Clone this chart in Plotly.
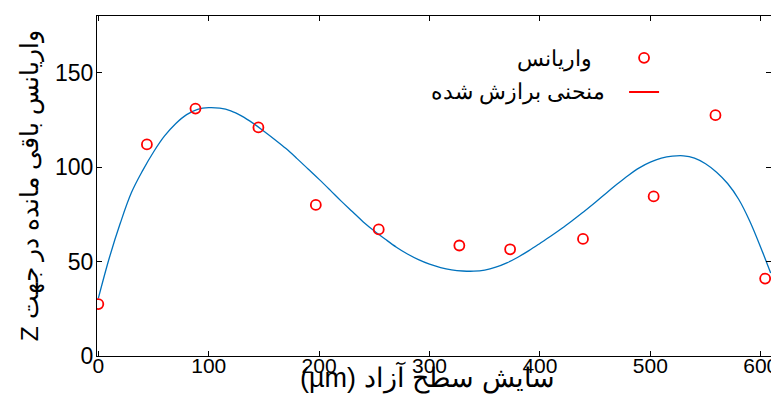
import plotly.graph_objects as go

# Measured variance points
x_points = [0, 44, 88, 145, 197, 254, 327, 373, 439, 503, 559, 604]
y_points = [27.5, 112, 131, 121, 80, 67, 58.5, 56.5, 62, 84.5, 127.5, 41]

# Fitted curve at regular steps
curve_x = [0, 10, 20, 30, 40, 50, 60, 70, 80, 90, 100, 110, 120, 130, 140, 150,
           160, 170, 180, 190, 200, 210, 220, 230, 240, 250, 260, 270, 280, 290,
           300, 310, 320, 330, 340, 350, 360, 370, 380, 390, 400, 410, 420, 430,
           440, 450, 460, 470, 480, 490, 500, 510, 520, 530, 540, 550, 560, 570,
           580, 590, 600, 609]
curve_y = [30.5, 52, 70.5, 86.5, 98, 108, 116.5, 123, 127.8, 130.6, 131.5, 131.2,
           129.8, 127, 123.3, 119, 114.5, 109.8, 104.5, 99, 93.5, 87.8, 82, 76.5,
           71, 66.2, 61.8, 57.6, 54, 51, 48.6, 46.8, 45.6, 45, 44.9, 45.5, 47, 49.3,
           52.3, 55.8, 59.6, 63.5, 67.6, 72, 76.5, 81.2, 86.2, 91, 95.6, 99.6, 102.6,
           104.7, 105.8, 106, 104.8, 101.8, 97.3, 91.3, 83, 71.5, 57.5, 43.9]

x_ticks = [0, 100, 200, 300, 400, 500, 600]
y_ticks = [0, 50, 100, 150]

label_points = "واریانس"
label_curve = "منحنی برازش شده"
x_title = "(µm) سایش سطح آزاد"
y_title = "Z واریانس باقی مانده در جهت"

fig = go.Figure()
fig.add_trace(go.Scatter(
    x=curve_x, y=curve_y, mode="lines",
    line=dict(color="#0072BD", width=1.3, shape="spline", smoothing=1.0),
    showlegend=False, name=label_curve, hoverinfo="skip"))
fig.add_trace(go.Scatter(
    x=x_points, y=y_points, mode="markers", name=" ",
    marker=dict(symbol="circle-open", size=10, color="red", line=dict(width=1.8, color="red"))))
# legend-only entry for the fitted curve (shown red in the legend)
fig.add_trace(go.Scatter(
    x=[None], y=[None], mode="lines", name=" ", line=dict(color="red", width=1.8)))

# legend texts (right-to-left, to the left of the symbols)
fig.add_annotation(xref="paper", yref="paper", x=0.738, y=0.873, xanchor="right", yanchor="middle",
                   text=label_points, showarrow=False, font=dict(size=22, color="black"))
fig.add_annotation(xref="paper", yref="paper", x=0.757, y=0.776, xanchor="right", yanchor="middle",
                   text=label_curve, showarrow=False, font=dict(size=22, color="black"))

# axis titles
fig.add_annotation(xref="paper", yref="paper", x=0.491, y=-0.064, xanchor="center", yanchor="middle",
                   text=x_title, showarrow=False, font=dict(size=27, color="black"))
fig.add_annotation(xref="paper", yref="paper", x=-0.099, y=0.50, xanchor="center", yanchor="middle",
                   text=y_title, textangle=-90, showarrow=False, font=dict(size=24.5, color="black"))

# the page body adds an 8px margin, so the figure is 8px smaller on each axis
fig.update_layout(
    width=771, height=406,
    margin=dict(l=89, r=8, t=8, b=58),
    paper_bgcolor="white", plot_bgcolor="white",
    font=dict(family="Liberation Sans, Arial, sans-serif", color="black"),
    legend=dict(x=0.782, y=0.942, xanchor="left", yanchor="top", bgcolor="rgba(0,0,0,0)",
                font=dict(size=24), tracegroupgap=0, itemwidth=30),
    xaxis=dict(range=[-1.2, 609.3], tickvals=x_ticks, ticks="inside", ticklen=5, tickcolor="black",
               showline=True, linecolor="black", linewidth=1, mirror="ticks", showgrid=False,
               zeroline=False, automargin=False, ticklabelstandoff=-9,
               tickfont=dict(size=21, family="Liberation Sans Narrow, Arial Narrow, Liberation Sans, sans-serif")),
    yaxis=dict(range=[0, 180], tickvals=y_ticks, ticks="inside", ticklen=5, tickcolor="black",
               showline=True, linecolor="black", linewidth=1, mirror="ticks", showgrid=False,
               zeroline=False, automargin=False, ticklabelstandoff=-2,
               tickfont=dict(size=23)),
)

fig.write_html("out.html")
